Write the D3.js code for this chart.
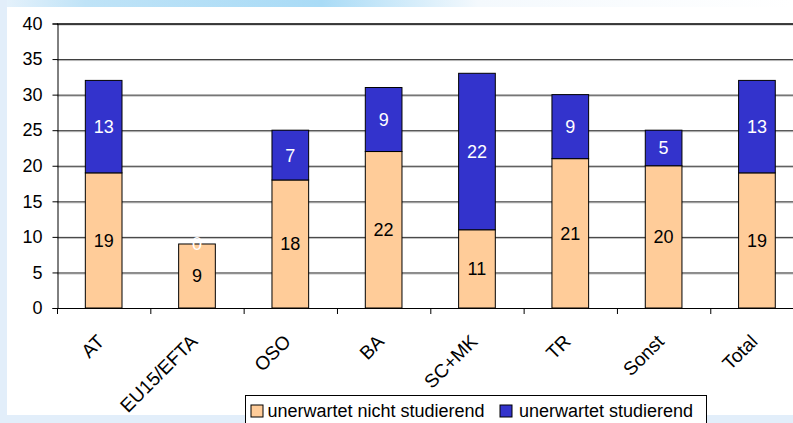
<!DOCTYPE html>
<html>
  <head>
    <meta charset="utf-8">
    <style>
      body { margin: 0; }
      svg { display: block; font-family: "Liberation Sans", Arial, sans-serif; }
    </style>
    <script src="https://cdn.jsdelivr.net/npm/d3@7"></script>
  </head>
  <body>
  <script>
    // data
    var categories = ["AT", "EU15/EFTA", "OSO", "BA", "SC+MK", "TR", "Sonst", "Total"];
    var nichtStudierend = [19, 9, 18, 22, 11, 21, 20, 19];
    var studierend = [13, 0, 7, 9, 22, 9, 5, 13];
    var yTicks = [0, 5, 10, 15, 20, 25, 30, 35, 40];
    var seriesNames = ["unerwartet nicht studierend", "unerwartet studierend"];
    var colors = ["#FFCC99", "#3333CC"];

    var W = 793, H = 423, FS = 18;
    var plot = {left: 57, right: 803.6, top: 23.5, bottom: 308}; // right edge is cut off in the original

    var svg = d3.select("body").append("svg").attr("width", W).attr("height", H);

    // background: pale blue slide with a white panel
    var defs = svg.append("defs");
    var g1 = defs.append("linearGradient").attr("id", "topglow").attr("x1", 0).attr("x2", 1).attr("y1", 0).attr("y2", 0);
    g1.append("stop").attr("offset", "0").attr("stop-color", "#e4f1fb");
    g1.append("stop").attr("offset", "0.1").attr("stop-color", "#bfe3f7");
    g1.append("stop").attr("offset", "0.4").attr("stop-color", "#a9dbf6");
    g1.append("stop").attr("offset", "0.6").attr("stop-color", "#f4f9fd");
    g1.append("stop").attr("offset", "1").attr("stop-color", "#ffffff");
    svg.append("rect").attr("width", W).attr("height", H).attr("fill", "#e2eefa");
    svg.append("rect").attr("x", 7).attr("width", W - 7).attr("height", 10).attr("fill", "url(#topglow)");
    svg.append("rect").attr("x", 7).attr("y", 7).attr("width", W - 7).attr("height", 408).attr("fill", "#fff");

    var x = d3.scaleBand().domain(categories).range([plot.left, plot.right]);
    var y = d3.scaleLinear().domain([0, 40]).range([plot.bottom, plot.top]);
    var barW = x.bandwidth() * 0.393;

    // gridlines
    var grid = yTicks.filter(function(d) { return d > 0; });
    svg.append("g").selectAll("line").data(grid)
      .enter().append("line")
      .attr("x1", plot.left).attr("x2", plot.right)
      .attr("y1", function(d) { return y(d) + 1.5; }).attr("y2", function(d) { return y(d) + 1.5; })
      .attr("stroke", "#bbb").attr("stroke-width", 1);
    svg.append("g").selectAll("line").data(grid)
      .enter().append("line")
      .attr("x1", plot.left).attr("x2", plot.right)
      .attr("y1", function(d) { return y(d) + 0.5; }).attr("y2", function(d) { return y(d) + 0.5; })
      .attr("stroke", function(d) { return d == 40 ? "#000" : "#333"; })
      .attr("stroke-width", function(d) { return d == 40 ? 1.5 : 1; });

    // stacked bars
    var rows = categories.map(function(c, i) { return {cat: c, a: nichtStudierend[i], b: studierend[i]}; });
    var bars = svg.append("g");
    bars.selectAll("rect.a").data(rows).enter().append("rect")
      .attr("x", function(d) { return x(d.cat) + (x.bandwidth() - barW) / 2; })
      .attr("y", function(d) { return y(d.a); })
      .attr("width", barW)
      .attr("height", function(d) { return y(0) - y(d.a); })
      .attr("fill", colors[0]).attr("stroke", "#000").attr("stroke-width", 1);
    bars.selectAll("rect.b").data(rows.filter(function(d) { return d.b > 0; })).enter().append("rect")
      .attr("x", function(d) { return x(d.cat) + (x.bandwidth() - barW) / 2; })
      .attr("y", function(d) { return y(d.a + d.b); })
      .attr("width", barW)
      .attr("height", function(d) { return y(d.a) - y(d.a + d.b); })
      .attr("fill", colors[1]).attr("stroke", "#000").attr("stroke-width", 1);

    // value labels
    var labels = svg.append("g").attr("font-size", FS).attr("text-anchor", "middle");
    labels.selectAll("text.a").data(rows).enter().append("text")
      .attr("x", function(d) { return x(d.cat) + x.bandwidth() / 2; })
      .attr("y", function(d) { return y(d.a / 2); })
      .attr("dy", "0.36em").attr("fill", "#000")
      .text(function(d) { return d.a; });
    labels.selectAll("text.b").data(rows).enter().append("text")
      .attr("x", function(d) { return x(d.cat) + x.bandwidth() / 2; })
      .attr("y", function(d) { return y(d.a + d.b / 2); })
      .attr("dy", "0.36em").attr("fill", "#fff")
      .text(function(d) { return d.b; });

    // y axis
    var yAxis = svg.append("g").attr("transform", "translate(" + (plot.left + 0.5) + ",0)")
      .call(d3.axisLeft(y).tickValues(yTicks).tickSize(5).tickPadding(10));
    yAxis.select(".domain").attr("stroke", "#000");
    yAxis.selectAll("text").attr("font-size", FS).attr("fill", "#000").attr("font-family", "Liberation Sans, Arial, sans-serif");

    // x axis: ticks sit between categories
    var xAxisG = svg.append("g");
    xAxisG.append("line").attr("x1", plot.left).attr("x2", plot.right)
      .attr("y1", plot.bottom + 0.5).attr("y2", plot.bottom + 0.5).attr("stroke", "#000");
    xAxisG.selectAll("line.t").data(categories).enter().append("line")
      .attr("x1", function(d) { return x(d) + 0.5; }).attr("x2", function(d) { return x(d) + 0.5; })
      .attr("y1", plot.bottom).attr("y2", plot.bottom + 6).attr("stroke", "#000");
    xAxisG.selectAll("text").data(categories).enter().append("text")
      .attr("transform", function(d) { return "translate(" + (x(d) + x.bandwidth() / 2 - 3) + "," + (plot.bottom + 30) + ") rotate(-45)"; })
      .attr("text-anchor", "end").attr("dy", "0.35em").attr("font-size", 19)
      .text(function(d) { return d; });

    // legend
    var leg = svg.append("g").attr("transform", "translate(245.5,395.5)");
    leg.append("rect").attr("width", 461).attr("height", 34).attr("fill", "#fff").attr("stroke", "#000");
    var items = [{x: 5.5, tx: 22}, {x: 254.5, tx: 273.5}];
    seriesNames.forEach(function(s, i) {
      leg.append("rect").attr("x", items[i].x).attr("y", 9.5).attr("width", 12).attr("height", 12)
        .attr("fill", colors[i]).attr("stroke", "#000");
      leg.append("text").attr("x", items[i].tx).attr("y", 21).attr("font-size", FS).text(s);
    });
  </script>
  </body>
</html>
